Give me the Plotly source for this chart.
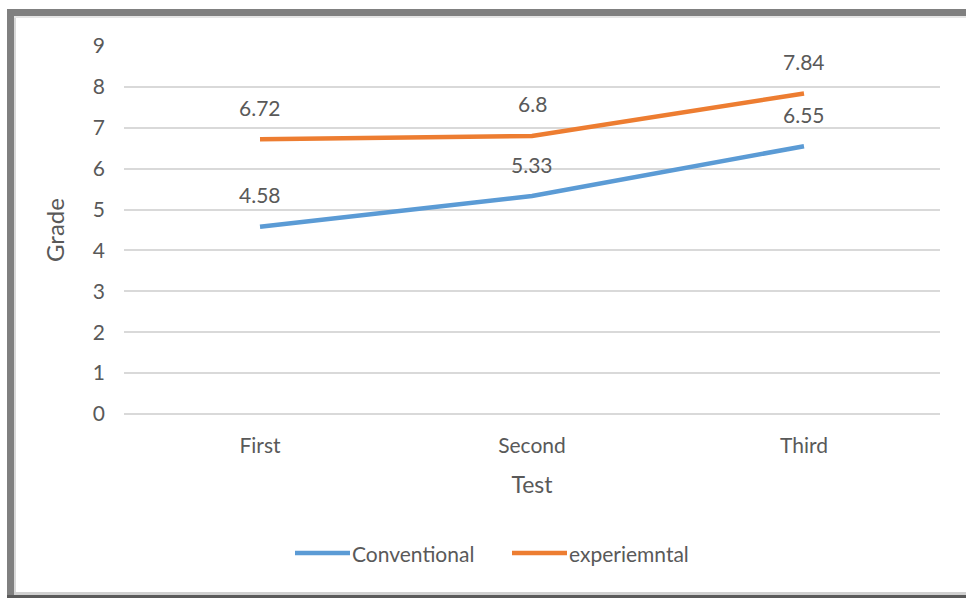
import plotly.graph_objects as go

# Test results per group
tests = ["First", "Second", "Third"]
conventional = [4.58, 5.33, 6.55]
experimental = [6.72, 6.8, 7.84]
y_ticks = list(range(0, 10))

BLUE = "#5B9BD5"
ORANGE = "#ED7D31"
TEXT = "#595959"
FONT = "Lato"
FS = 21

fig = go.Figure()
fig.add_trace(go.Scatter(x=tests, y=conventional, mode="lines", name="Conventional",
                         line=dict(color=BLUE, width=4.5), showlegend=False))
fig.add_trace(go.Scatter(x=tests, y=experimental, mode="lines", name="experiemntal",
                         line=dict(color=ORANGE, width=4.5), showlegend=False))

# value labels above each point
for series in (conventional, experimental):
    for t, v in zip(tests, series):
        fig.add_annotation(x=t, y=v, text=f"{v:g}", showarrow=False, yshift=32,
                           font=dict(family=FONT, size=FS, color=TEXT))

L, R, T, B = 124, 26, 46, 184
W, H = 966, 598
pw, ph = W - L - R, H - T - B

def px(x):
    return (x - L) / pw

def py(y):
    return (H - B - y) / ph

# frame around the chart
frame = [
    (7, 9, 14, 598, "#808080"),
    (14, 16, 16, 593, "#d9d9d9"),
    (7, 9, 966, 16, "#808080"),
    (14, 16, 966, 18, "#e6e6e6"),
    (14, 592, 966, 595, "#d0d0d0"),
    (7, 595, 966, 598, "#5a5a5a"),
]
for x0, y0, x1, y1, c in frame:
    fig.add_shape(type="rect", xref="paper", yref="paper",
                  x0=px(x0), x1=px(x1), y0=py(y0), y1=py(y1),
                  fillcolor=c, line=dict(width=0), layer="below")

# legend: line sample followed by series name
legend_items = [("Conventional", BLUE, 295), ("experiemntal", ORANGE, 512)]
for name, color, x0 in legend_items:
    fig.add_shape(type="line", xref="paper", yref="paper",
                  x0=px(x0), x1=px(x0 + 55), y0=py(553), y1=py(553),
                  line=dict(color=color, width=4.5))
    fig.add_annotation(xref="paper", yref="paper", x=px(x0 + 55), y=py(553),
                       xanchor="left", yanchor="middle", text=name, showarrow=False,
                       font=dict(family=FONT, size=FS, color=TEXT))

fig.update_layout(
    width=W, height=H,
    margin=dict(l=L, r=R, t=T, b=B),
    paper_bgcolor="white", plot_bgcolor="white",
    font=dict(family=FONT, size=FS, color=TEXT),
    showlegend=False,
    xaxis=dict(type="category", range=[-0.5, 2.5], showgrid=False, zeroline=False,
               showline=False, ticks="outside", ticklen=13, tickcolor="rgba(0,0,0,0)",
               tickfont=dict(family=FONT, size=FS, color=TEXT),
               title=dict(text="Test", standoff=20, font=dict(family=FONT, size=23, color=TEXT))),
    yaxis=dict(range=[0, 9], tickvals=y_ticks, showgrid=True, gridcolor="#D9D9D9",
               gridwidth=1.5, zeroline=True, zerolinecolor="#D9D9D9", zerolinewidth=1.5,
               showline=False, ticklabelstandoff=18,
               tickfont=dict(family=FONT, size=FS, color=TEXT),
               title=dict(text="Grade", standoff=21, font=dict(family=FONT, size=24, color=TEXT))),
)

fig.write_html("out.html")
